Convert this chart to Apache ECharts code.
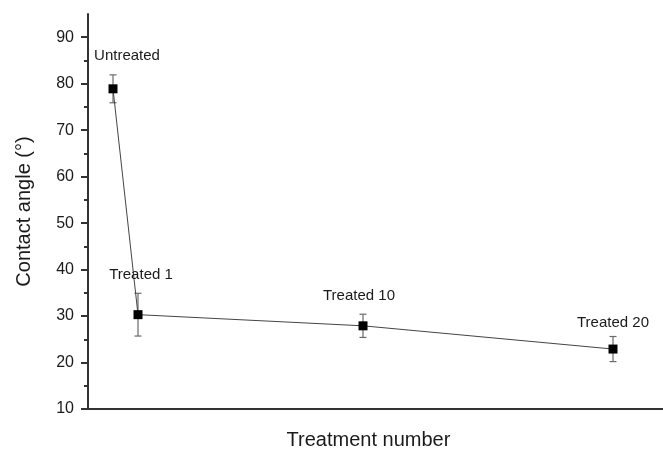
<!DOCTYPE html>
<html>
<head>
<meta charset="utf-8">
<script src="https://cdn.jsdelivr.net/npm/echarts@6/dist/echarts.min.js"></script>
<style>html,body{margin:0;padding:0;background:#fff}#c{width:663px;height:455px}</style>
</head>
<body>
<div id="c"></div>
<script>
// ---- data ----
const categories = ['Untreated', 'Treated 1', 'Treated 10', 'Treated 20'];
const treatmentNumber = [0, 1, 10, 20];
const contactAngle = [78.9, 30.3, 27.9, 22.9];
const errorValue = [3.0, 4.6, 2.5, 2.7];
const yMajorTicks = [10, 20, 30, 40, 50, 60, 70, 80, 90];
const yMinorTicks = [15, 25, 35, 45, 55, 65, 75, 85];

// ---- label placement (style) ----
const labelOffsets = [[14, -33], [3, -40], [-4, -30], [0, -26]];

const font = '"Liberation Sans", Arial, sans-serif';
const chart = echarts.init(document.getElementById('c'), null, {renderer: 'canvas'});

const lineData = treatmentNumber.map((x, i) => ({
  value: [x, contactAngle[i]],
  label: {
    show: true, formatter: categories[i], position: 'inside',
    offset: labelOffsets[i], color: '#1a1a1a', fontSize: 15, fontFamily: font
  }
}));
const errData = treatmentNumber.map((x, i) => [x, contactAngle[i] - errorValue[i], contactAngle[i] + errorValue[i]]);

chart.setOption({
  animation: false,
  backgroundColor: '#fff',
  grid: {left: 88, right: 0, top: 14, bottom: 43},
  xAxis: {
    type: 'value', min: -1, max: 22,
    name: 'Treatment number', nameLocation: 'middle', nameGap: 21,
    nameTextStyle: {fontSize: 20, color: '#1a1a1a', fontFamily: font, padding: [0, 14, 0, 0]},
    axisLine: {show: true, onZero: false, lineStyle: {color: '#333', width: 2}},
    axisTick: {show: false}, axisLabel: {show: false}, splitLine: {show: false}
  },
  yAxis: [{
    type: 'value', min: 10, max: 95, interval: 10,
    name: 'Contact angle (°)', nameLocation: 'middle', nameGap: 54,
    nameTextStyle: {fontSize: 20, color: '#1a1a1a', fontFamily: font},
    axisLine: {show: true, onZero: false, lineStyle: {color: '#333', width: 2}},
    axisTick: {show: true, length: 7, customValues: yMajorTicks, lineStyle: {color: '#333', width: 2}},
    axisLabel: {show: true, customValues: yMajorTicks, margin: 14, fontSize: 16, color: '#1a1a1a', fontFamily: font},
    splitLine: {show: false}
  }, {
    type: 'value', min: 10, max: 95, position: 'left', offset: 0,
    axisLine: {show: false, onZero: false},
    axisTick: {show: true, length: 4, customValues: yMinorTicks, lineStyle: {color: '#333', width: 2}},
    axisLabel: {show: false}, splitLine: {show: false}
  }],
  series: [{
    type: 'custom',
    xAxisIndex: 0, yAxisIndex: 0,
    data: errData,
    encode: {x: 0, y: [1, 2]},
    z: 1,
    renderItem: function (params, api) {
      const x = api.value(0);
      const lo = api.coord([x, api.value(1)]);
      const hi = api.coord([x, api.value(2)]);
      const w = 3.5;
      const st = {stroke: '#6a6a6a', lineWidth: 1.2};
      return {
        type: 'group',
        children: [
          {type: 'line', shape: {x1: lo[0], y1: lo[1], x2: hi[0], y2: hi[1]}, style: st},
          {type: 'line', shape: {x1: lo[0] - w, y1: lo[1], x2: lo[0] + w, y2: lo[1]}, style: st},
          {type: 'line', shape: {x1: hi[0] - w, y1: hi[1], x2: hi[0] + w, y2: hi[1]}, style: st}
        ]
      };
    }
  }, {
    type: 'line',
    xAxisIndex: 0, yAxisIndex: 0,
    data: lineData,
    symbol: 'rect', symbolSize: 9,
    itemStyle: {color: '#000'},
    lineStyle: {color: '#444', width: 1},
    z: 3
  }]
});
</script>
</body>
</html>
